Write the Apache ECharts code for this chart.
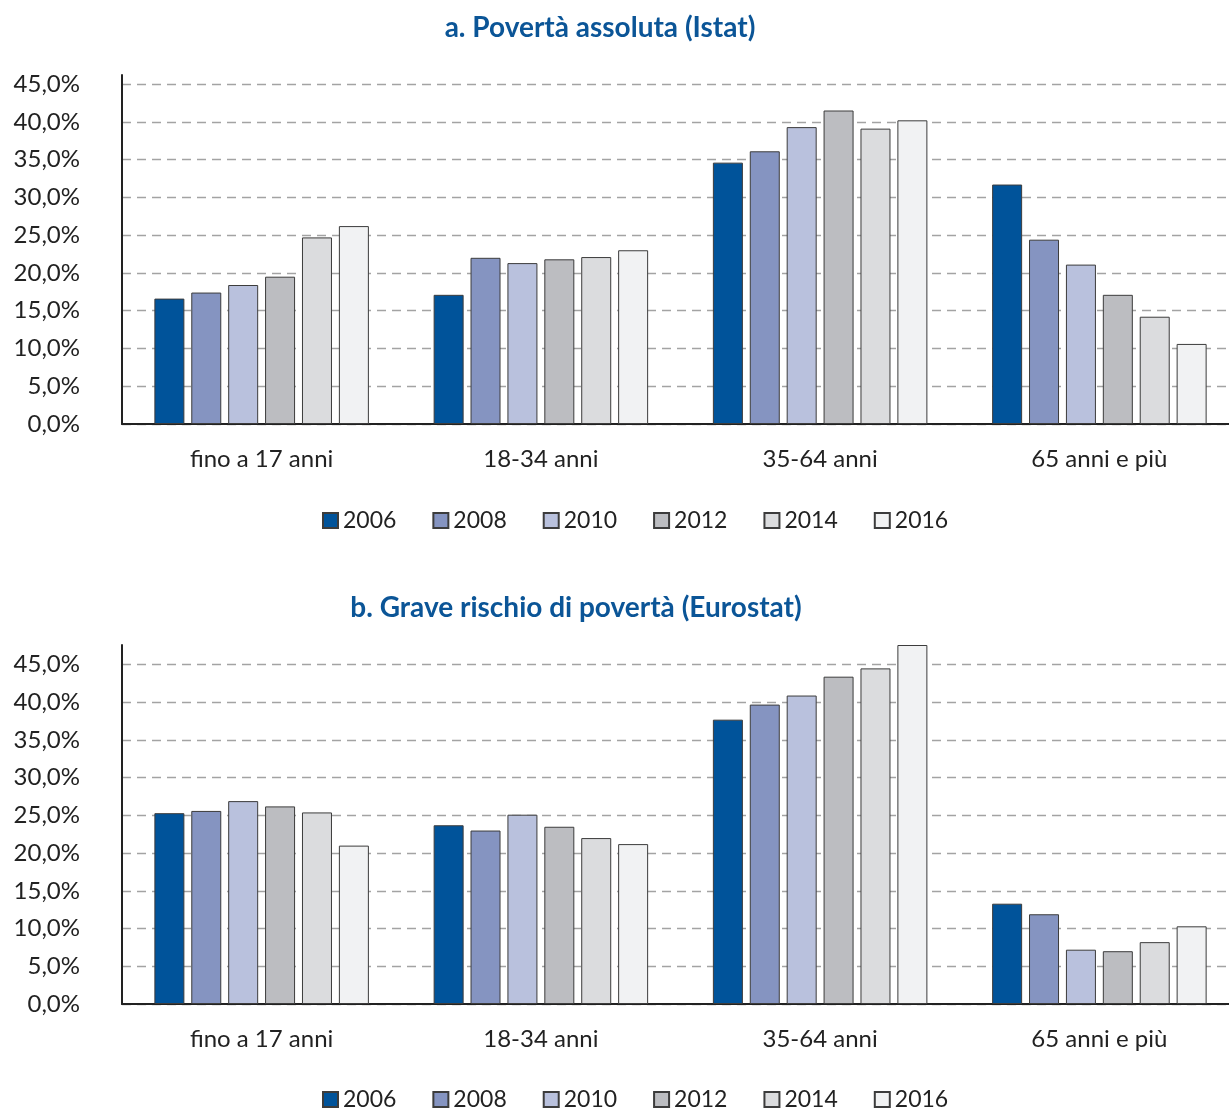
<!DOCTYPE html>
<html>
<head>
<meta charset="utf-8">
<title>Povertà per classe di età</title>
<script src="https://cdn.jsdelivr.net/npm/echarts@6/dist/echarts.min.js"></script>
<style>
  body { margin: 0; background: #fff; overflow: hidden; }
  /* wider than the window: the last category band runs past the right edge */
  #chart { width: 1260px; height: 1109px; }
</style>
</head>
<body>
<div id="chart"></div>
<script>
var categories = ['fino a 17 anni', '18-34 anni', '35-64 anni', '65 anni e più'];
var years = ['2006', '2008', '2010', '2012', '2014', '2016'];
var yTicks = [0, 5, 10, 15, 20, 25, 30, 35, 40, 45];

// a. Povertà assoluta (Istat)
var istat2006 = [16.6, 17.1, 34.6, 31.7];
var istat2008 = [17.4, 22.0, 36.1, 24.4];
var istat2010 = [18.4, 21.3, 39.3, 21.1];
var istat2012 = [19.5, 21.8, 41.5, 17.1];
var istat2014 = [24.7, 22.1, 39.1, 14.2];
var istat2016 = [26.2, 23.0, 40.2, 10.6];

// b. Grave rischio di povertà (Eurostat)
var euro2006 = [25.3, 23.7, 37.7, 13.3];
var euro2008 = [25.6, 23.0, 39.7, 11.9];
var euro2010 = [26.9, 25.1, 40.9, 7.2];
var euro2012 = [26.2, 23.5, 43.4, 7.0];
var euro2014 = [25.4, 22.0, 44.5, 8.2];
var euro2016 = [21.0, 21.2, 47.6, 10.3];

var colors = ['#00539a', '#8594c1', '#b9c1dd', '#bcbdc1', '#dbdcde', '#f1f2f3'];
var textColor = '#222';
var font = 'Lato';

var istatData = [istat2006, istat2008, istat2010, istat2012, istat2014, istat2016];
var euroData = [euro2006, euro2008, euro2010, euro2012, euro2014, euro2016];

var panels = [
    { title: 'a. Povertà assoluta (Istat)', data: istatData, max: 46.2, top: 75, height: 349,
      titleX: 595, titleTop: 9, legendTop: 509 },
    { title: 'b. Grave rischio di povertà (Eurostat)', data: euroData, max: 47.6, top: 645, height: 359,
      titleX: 571, titleTop: 589, legendTop: 1088 }
];

function pct(v) {
    return v.toFixed(1).replace('.', ',') + '%';
}

var option = {
    animation: false,
    color: colors,
    title: [],
    legend: [],
    grid: [],
    xAxis: [],
    yAxis: [],
    series: []
};

panels.forEach(function (p, i) {
    option.title.push({
        text: p.title,
        left: p.titleX,
        textAlign: 'center',
        top: p.titleTop,
        textStyle: { fontFamily: font, fontSize: 28, fontWeight: 'bold', color: '#0b5597' }
    });
    option.legend.push({
        data: years,
        top: p.legendTop,
        left: 322,
        padding: 0,
        icon: 'rect',
        itemWidth: 15,
        itemHeight: 15,
        itemGap: 36,
        textStyle: { fontFamily: font, fontSize: 23, color: textColor }
    });
    option.grid.push({ left: 122, width: 1117, top: p.top, height: p.height });

    // one transparent split line at the top (the axis max is not a multiple of 5)
    var lineColors = yTicks.map(function () { return '#a3a3a3'; });
    lineColors.push('rgba(0,0,0,0)');

    option.xAxis.push({
        type: 'category',
        gridIndex: i,
        data: categories,
        axisLine: { lineStyle: { color: '#222', width: 2 } },
        axisTick: { show: false },
        axisLabel: { margin: 23, fontFamily: font, fontSize: 24, color: textColor }
    });
    option.yAxis.push({
        type: 'value',
        gridIndex: i,
        min: 0,
        max: p.max,
        interval: 5,
        axisLine: { show: true, lineStyle: { color: '#222', width: 2 } },
        axisTick: { show: false },
        axisLabel: {
            showMaxLabel: false,
            margin: 42,
            fontFamily: font,
            fontSize: 24,
            color: textColor,
            formatter: function (v) { return v % 5 === 0 ? pct(v) : ''; }
        },
        splitLine: { lineStyle: { color: lineColors, type: [9, 6], width: 1.3 } }
    });

    years.forEach(function (y, k) {
        option.series.push({
            name: y,
            type: 'bar',
            xAxisIndex: i,
            yAxisIndex: i,
            data: p.data[k],
            barWidth: 30,
            barGap: '23%',
            itemStyle: { color: colors[k], borderColor: '#3c3c3c', borderWidth: 1 }
        });
    });
});

var chart = echarts.init(document.getElementById('chart'));
chart.setOption(option);
</script>
</body>
</html>
